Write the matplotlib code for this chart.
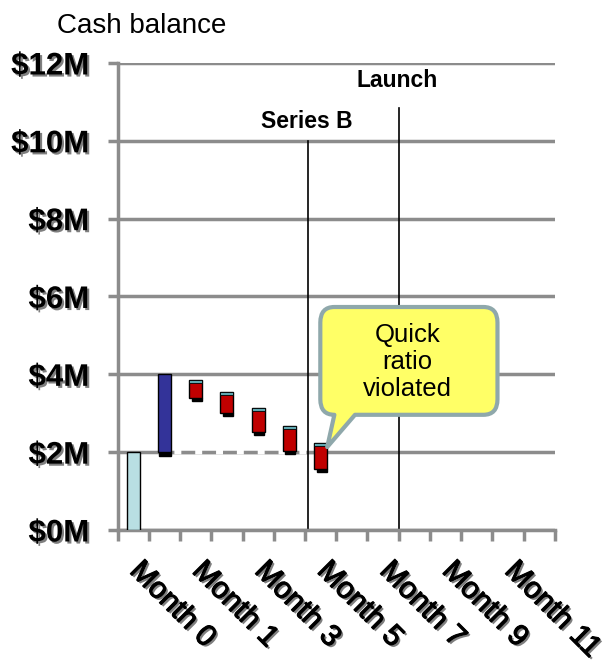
import matplotlib.pyplot as plt
import matplotlib.patheffects as pe
import matplotlib.transforms as mtransforms
from matplotlib.patches import Rectangle, PathPatch
from matplotlib.path import Path

# cash balance waterfall, values in $M
n_slots = 14
tick_slots = [0, 2, 4, 6, 8, 10, 12]
tick_labels = ["Month 0", "Month 1", "Month 3", "Month 5", "Month 7", "Month 9", "Month 11"]

opening_slot = 0
opening_cash = 2.0
raise_slot = 1
raise_from = 2.0
raise_to = 4.0

burn_slots = [2, 3, 4, 5, 6]
burn_top = [3.86, 3.55, 3.14, 2.67, 2.24]
burn_bottom = [3.39, 3.01, 2.52, 2.03, 1.57]

events = ["Series B", "Launch"]
event_x = [6.1, 9.0]
event_top = [10.0, 10.85]

yticks = [0, 2, 4, 6, 8, 10, 12]
ytick_labels = [r"\$0M", r"\$2M", r"\$4M", r"\$6M", r"\$8M", r"\$10M", r"\$12M"]

grid_gray = "#8c8c8c"
shadow = [pe.SimplePatchShadow(offset=(1.5, -1.5), shadow_rgbFace="#7f7f7f", alpha=1.0), pe.Normal()]

fig = plt.figure(figsize=(6.07, 6.61), dpi=100)
ax = fig.add_axes([0.1936, 0.1982, 0.9143 - 0.1936, 0.9047 - 0.1982])
ax.set_xlim(0, n_slots)
ax.set_ylim(0, 12)

for s in ["top", "right"]:
    ax.spines[s].set_visible(False)
for s in ["left", "bottom"]:
    ax.spines[s].set_color(grid_gray)
    ax.spines[s].set_linewidth(2.5)

ax.set_yticks(yticks)
ax.set_yticklabels(ytick_labels, fontsize=22.5, fontweight="bold", family="Liberation Sans")
ax.yaxis.grid(True, color=grid_gray, lw=2.5)
ax.set_axisbelow(True)
ax.tick_params(axis="y", length=7.2, width=2.5, color=grid_gray, pad=13)
for t in ax.get_yticklabels():
    t.set_path_effects(shadow)

ax.set_xticks(range(n_slots + 1))
ax.set_xticklabels([])
ax.tick_params(axis="x", which="major", length=7.7, width=2.5, color=grid_gray)
ax.set_xticks([s + 0.5 for s in tick_slots], minor=True)
ax.set_xticklabels(tick_labels, minor=True, rotation=-45, ha="left", va="top",
                   rotation_mode="anchor", fontsize=21.5, family="Liberation Sans")
ax.tick_params(axis="x", which="minor", length=0, pad=19)
offset = mtransforms.ScaledTranslation(11 / 100, 0, fig.dpi_scale_trans)
for t in ax.get_xticklabels(minor=True):
    t.set_transform(t.get_transform() + offset)
    t.set_path_effects([pe.SimplePatchShadow(offset=(1.5, -1.5), shadow_rgbFace="#7f7f7f", alpha=1.0),
                        pe.withStroke(linewidth=0.8, foreground="black")])

w = 0.42
# opening balance and the raise
ax.bar(opening_slot + 0.5, opening_cash, width=w, color="#b9dfe3", edgecolor="black", lw=1, zorder=3)
ax.add_patch(Rectangle((raise_slot + 0.5 - w / 2 + 0.05, raise_from - 0.09), w - 0.05, 0.09,
                       color="black", zorder=2.5))
ax.bar(raise_slot + 0.5, raise_to - raise_from, bottom=raise_from, width=w,
       color="#333399", edgecolor="black", lw=1, zorder=3)

# connector at the opening level
ax.plot([1.35, 6.3], [2, 2], color="white", lw=3, zorder=1.5, solid_capstyle="butt")
ax.plot([1.35, 6.3], [2, 2], color=grid_gray, lw=2.5, ls=(0, (4, 2)), zorder=1.6)

# monthly burn
for s, top, bot in zip(burn_slots, burn_top, burn_bottom):
    x = s + 0.5
    ax.add_patch(Rectangle((x - w / 2 + 0.08, bot - 0.08), w - 0.1, 0.08, color="black", zorder=2.5))
    ax.bar(x, top - bot, bottom=bot, width=w, color="#c00000", edgecolor="black", lw=1, zorder=3)
    ax.add_patch(Rectangle((x - w / 2, top - 0.08), w, 0.08, facecolor="#5fa8b0",
                           edgecolor="black", lw=0.6, zorder=3.2))

# funding / launch markers
for name, x, top, ty in zip(events, event_x, event_top, [10.5, 11.55]):
    ax.plot([x, x], [0, top], color="black", lw=1.2, zorder=2)
    ax.text(x - 0.05, ty, name, ha="center", va="center", fontsize=16.5,
            fontweight="bold", family="Liberation Sans", zorder=4)

# callout
x0, x1, y0, y1 = 6.49, 12.16, 2.96, 5.73
rx, ry = 0.45, 0.4
tail_l, tail_r = x0 + rx, 7.6
tip = (6.71, 2.13)
verts = [(tail_r, y0), (x1 - rx, y0), (x1, y0), (x1, y0 + ry), (x1, y1 - ry),
         (x1, y1), (x1 - rx, y1), (x0 + rx, y1), (x0, y1), (x0, y1 - ry),
         (x0, y0 + ry), (x0, y0), (x0 + rx, y0), tip, (tail_r, y0), (tail_r, y0)]
codes = [Path.MOVETO, Path.LINETO, Path.CURVE3, Path.CURVE3, Path.LINETO,
         Path.CURVE3, Path.CURVE3, Path.LINETO, Path.CURVE3, Path.CURVE3,
         Path.LINETO, Path.CURVE3, Path.CURVE3, Path.LINETO, Path.LINETO, Path.CLOSEPOLY]
ax.add_patch(PathPatch(Path(verts, codes), facecolor="#ffff66", edgecolor="#8fa8ab",
                       lw=3, joinstyle="round", zorder=5, clip_on=False))
ax.text((x0 + x1) / 2 - 0.05, 4.32, "Quick\nratio\nviolated", ha="center", va="center",
        fontsize=18.5, family="Liberation Sans", linespacing=1.15, zorder=6)

fig.text(57 / 607, 1 - 33 / 661, "Cash balance", fontsize=20, family="Liberation Sans", va="baseline")

fig.savefig("out.png", dpi=100)
